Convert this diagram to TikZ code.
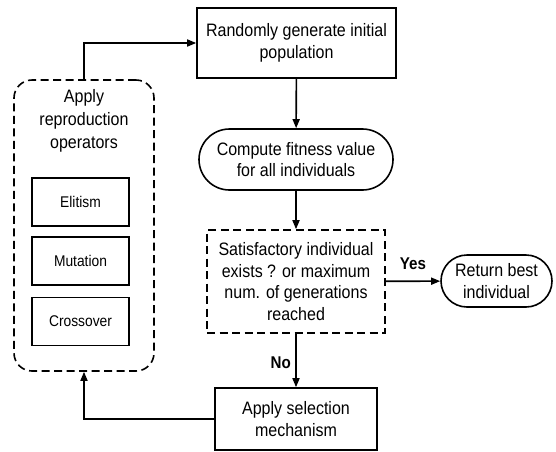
\documentclass[tikz,border=0pt]{standalone}
\usepackage{fontspec}
\setmainfont{Liberation Sans}[FakeStretch=0.89]
\usetikzlibrary{arrows.meta,shapes.misc}

\tikzset{
  base/.style={draw, line width=1.6pt, align=center, inner sep=2pt,
    font=\fontsize{18}{21.7}\selectfont},
  procbox/.style={base, rectangle},
  termbox/.style={base, rounded rectangle},
  dashbox/.style={base, rectangle, dash pattern=on 8pt off 4.5pt},
  opbox/.style={draw, line width=1.6pt, minimum width=97pt, minimum height=48pt,
    font=\fontsize{15.5}{18}\selectfont},
  flow/.style={line width=1.6pt, -{Triangle[length=9pt,width=7pt]}},
  lbl/.style={font=\fontsize{17}{20}\selectfont\bfseries},
}

\begin{document}
\begin{tikzpicture}[x=1pt,y=-1pt]
  \useasboundingbox (0,0) rectangle (556,451);

  % main flow
  \node[procbox, minimum width=199pt, minimum height=70pt] (init) at (296.5,43)
    {Randomly generate initial\\population};
  \node[termbox, minimum width=198pt, minimum height=61pt] (fit) at (296,159.5)
    {Compute fitness value\\for all individuals};
  \node[dashbox, minimum width=178pt, minimum height=103pt] (dec) at (296,281.5)
    {Satisfactory individual\\exists ? or maximum\\num. of generations\\reached};
  \node[termbox, minimum width=115pt, minimum height=52pt] (ret) at (496.5,281)
    {Return best\\individual};
  \node[procbox, minimum width=162pt, minimum height=62pt] (sel) at (296,419)
    {Apply selection\\mechanism};

  % reproduction group
  \node[draw, line width=1.6pt, dash pattern=on 8pt off 4.5pt, rounded corners=18pt,
    minimum width=140pt, minimum height=291pt] (repro) at (84,225.5) {};
  \node[font=\fontsize{18}{23}\selectfont, align=center] (reprotxt) at (84,121)
    {Apply\\reproduction\\operators};
  \node[opbox] (elit) at (80.5,202) {Elitism};
  \node[opbox] (mut) at (80.5,261) {Mutation};
  \node[opbox] (cross) at (80.5,321.5) {Crossover};

  % connectors
  \draw[flow] (init) -- (fit);
  \draw[flow] (fit) -- (dec);
  \draw[flow] (dec) -- node[lbl, above, pos=0.5, yshift=7pt] {Yes} (ret);
  \draw[flow] (dec) -- node[lbl, left, pos=0.55, xshift=-1pt] {No} (sel);
  \draw[flow] (sel.west) -| (repro.south);
  \draw[flow] (repro.north) |- (init.west);
\end{tikzpicture}
\end{document}
